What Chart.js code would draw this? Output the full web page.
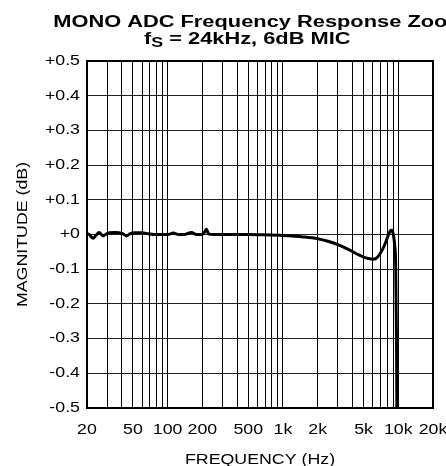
<!DOCTYPE html>
<html><head><meta charset="utf-8">
<script src="https://cdn.jsdelivr.net/npm/chart.js@4/dist/chart.umd.min.js"></script>
<style>html,body{margin:0;padding:0;background:#fff;overflow:hidden}#wrap{width:446px;height:466px;position:relative}</style>
</head><body><div id="wrap"><canvas id="c" width="446" height="466"></canvas></div>
<script>
const titleLine1 = 'MONO ADC Frequency Response Zoom';
const titleLine2 = ['f', 'S', ' = 24kHz, 6dB MIC'];
const xAxisTitle = 'FREQUENCY (Hz)';
const yAxisTitle = 'MAGNITUDE (dB)';
const xGridValues = [20,30,40,50,60,70,80,90,100,200,300,400,500,600,700,800,900,1000,2000,3000,4000,5000,6000,7000,8000,9000,10000,20000];
const xTickLabels = {20:'20',50:'50',100:'100',200:'200',500:'500',1000:'1k',2000:'2k',5000:'5k',10000:'10k',20000:'20k'};
const yTickValues = [-0.5,-0.4,-0.3,-0.2,-0.1,0,0.1,0.2,0.3,0.4,0.5];
const yTickLabels = ['-0.5','-0.4','-0.3','-0.2','-0.1','+0','+0.1','+0.2','+0.3','+0.4','+0.5'];
const frequencyHz = [20,21,22.5,24,25.5,27.5,29,31,35,40,44,47,52,60,68,77,90,100,112,125,140,161,178,200,210,217,226,250,300,500,700,1000,1500,2000,2500,3000,3500,4000,4500,5000,5500,6000,6400,6800,7300,7700,8100,8500,8750,9000,9300,9500,9650,9750];
const magnitudeDb = [0.002,0,-0.011,-0.002,0.006,-0.004,0,0.005,0.006,0.004,-0.004,0.002,0.005,0.005,0.002,0,0,0,0.004,0,0,0.006,0,0,0.008,0.015,0.002,0,0,0,-0.001,-0.003,-0.007,-0.012,-0.020,-0.029,-0.039,-0.049,-0.058,-0.065,-0.069,-0.071,-0.069,-0.060,-0.043,-0.026,-0.006,0.010,0.012,0.004,-0.030,-0.09,-0.3,-0.6];

const FONT = '"Liberation Sans", Arial, Helvetica, sans-serif';
const SX = 1.27; // the reference lettering is horizontally widened
const canvas = document.getElementById('c');
const ctx = canvas.getContext('2d');
const nativeFill = CanvasRenderingContext2D.prototype.fillText;
const nativeMeasure = CanvasRenderingContext2D.prototype.measureText;
ctx.fillText = function(text, x, y, maxWidth) {
  this.save(); this.translate(x, y); this.scale(SX, 1);
  if (maxWidth === undefined || maxWidth === null) nativeFill.call(this, text, 0, 0);
  else nativeFill.call(this, text, 0, 0, maxWidth / SX);
  this.restore();
};
ctx.measureText = function(text) {
  const m = nativeMeasure.call(this, text);
  return {width: m.width * SX, actualBoundingBoxAscent: m.actualBoundingBoxAscent, actualBoundingBoxDescent: m.actualBoundingBoxDescent,
    actualBoundingBoxLeft: m.actualBoundingBoxLeft * SX, actualBoundingBoxRight: m.actualBoundingBoxRight * SX,
    fontBoundingBoxAscent: m.fontBoundingBoxAscent, fontBoundingBoxDescent: m.fontBoundingBoxDescent};
};

const framePlugin = {
  id: 'frame',
  afterDatasetsDraw(chart) {
    const a = chart.chartArea, c = chart.ctx;
    c.save(); c.strokeStyle = '#000'; c.lineWidth = 2;
    c.strokeRect(a.left, a.top, a.right - a.left, a.bottom - a.top);
    c.restore();
  }
};
const titlePlugin = {
  id: 'titleLines',
  afterDraw(chart) {
    const c = chart.ctx, a = chart.chartArea;
    c.save(); c.fillStyle = '#000'; c.textBaseline = 'alphabetic';
    c.font = 'bold 17.2px ' + FONT; c.textAlign = 'center';
    c.fillText(titleLine1, (a.left + a.right) / 2, 27);
    c.textAlign = 'left';
    let x = 144;
    c.fillText(titleLine2[0], x, 43.5); x += c.measureText(titleLine2[0]).width;
    c.font = 'bold 14px ' + FONT;
    c.fillText(titleLine2[1], x, 47); x += c.measureText(titleLine2[1]).width;
    c.font = 'bold 17.2px ' + FONT;
    c.fillText(titleLine2[2], x, 43.5);
    c.restore();
  }
};

new Chart(ctx, {
  type: 'line',
  data: { datasets: [{
    data: frequencyHz.map((f, i) => ({x: f, y: magnitudeDb[i]})),
    borderColor: '#000', borderWidth: 3, pointRadius: 0, fill: false,
    cubicInterpolationMode: 'monotone'
  }]},
  options: {
    responsive: false, animation: false, devicePixelRatio: 1,
    layout: { padding: { top: 61, right: 13, bottom: 0, left: 0 } },
    plugins: { legend: { display: false }, tooltip: { enabled: false }, title: { display: false } },
    scales: {
      x: {
        type: 'logarithmic', min: 20, max: 20000,
        afterBuildTicks: s => { s.ticks = xGridValues.map(v => ({ value: v })); },
        afterFit: s => { s.height = 58; s.paddingLeft = 0; s.paddingRight = 0; },
        ticks: { autoSkip: false, maxRotation: 0, minRotation: 0, padding: 14, color: '#000',
          font: { family: FONT, size: 14 }, callback: v => (xTickLabels[v] !== undefined ? xTickLabels[v] : '') },
        grid: { color: '#000', lineWidth: 1, drawTicks: false },
        border: { display: true, color: '#000', width: 2 },
        title: { display: true, text: xAxisTitle, color: '#000', font: { family: FONT, size: 14, lineHeight: 1 }, padding: { top: 0, bottom: -1 } }
      },
      y: {
        min: -0.5, max: 0.5,
        afterBuildTicks: s => { s.ticks = yTickValues.map(v => ({ value: v })); },
        afterFit: s => { s.width = 87; s.paddingTop = 0; s.paddingBottom = 0; },
        ticks: { padding: 7, color: '#000', font: { family: FONT, size: 14 },
          callback: (v, i) => yTickLabels[i] },
        grid: { color: '#222', lineWidth: 1, drawTicks: false },
        border: { display: true, color: '#000', width: 2 },
        title: { display: true, text: yAxisTitle, color: '#000', font: { family: FONT, size: 14, lineHeight: 1 }, padding: { top: 16, bottom: 0 } }
      }
    }
  },
  plugins: [framePlugin, titlePlugin]
});
</script>
</body></html>
